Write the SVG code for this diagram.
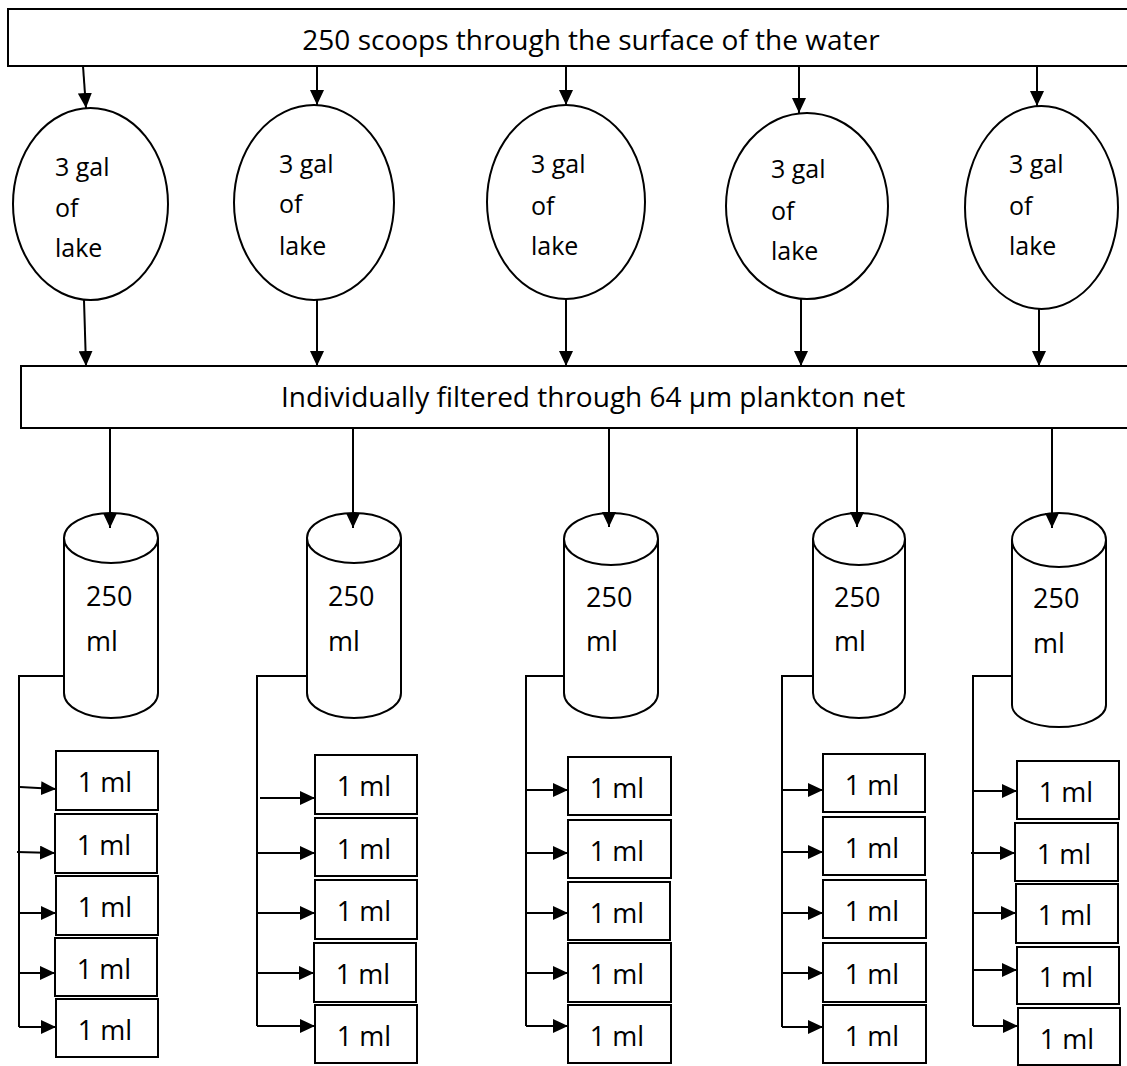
<svg xmlns="http://www.w3.org/2000/svg" width="1127" height="1066" viewBox="0 0 1127 1066">
<style>
.s{fill:#fff;stroke:#000;stroke-width:2}
.c{fill:none;stroke:#000;stroke-width:2}
text{font-family:"Open Sans","Liberation Sans",sans-serif;fill:#000}
.big{font-size:28px;text-anchor:middle}
.el{font-size:25px}
.cy{font-size:27px}
.bx{font-size:27px;text-anchor:middle}
</style>
<defs>
<marker id="ah" markerUnits="userSpaceOnUse" markerWidth="15" markerHeight="14" refX="15" refY="7" orient="auto" viewBox="0 0 15 14">
<path d="M0,0 L15,7 L0,14 z" fill="#000"/>
</marker>
</defs>
<rect width="1127" height="1066" fill="#fff"/>

<g id="scoops">
<rect class="s" x="8" y="9" width="1166" height="57"/>
<text class="big" x="591" y="50">250 scoops through the surface of the water</text>
</g>

<g id="lake1"><ellipse class="s" cx="90.5" cy="204" rx="77.5" ry="96"/>
<text class="el" x="55" y="176">3 gal</text><text class="el" x="55" y="217">of</text><text class="el" x="55" y="257">lake</text></g>
<g id="lake2"><ellipse class="s" cx="314" cy="202.5" rx="80" ry="97.5"/>
<text class="el" x="279" y="173">3 gal</text><text class="el" x="279" y="213">of</text><text class="el" x="279" y="255">lake</text></g>
<g id="lake3"><ellipse class="s" cx="566" cy="202" rx="79" ry="97"/>
<text class="el" x="531" y="173">3 gal</text><text class="el" x="531" y="215">of</text><text class="el" x="531" y="255">lake</text></g>
<g id="lake4"><ellipse class="s" cx="807" cy="206" rx="81" ry="93"/>
<text class="el" x="771" y="178">3 gal</text><text class="el" x="771" y="220">of</text><text class="el" x="771" y="260">lake</text></g>
<g id="lake5"><ellipse class="s" cx="1041.5" cy="207.5" rx="76.5" ry="101.5"/>
<text class="el" x="1009" y="173">3 gal</text><text class="el" x="1009" y="215">of</text><text class="el" x="1009" y="255">lake</text></g>

<g id="filter">
<rect class="s" x="21" y="366" width="1144" height="62"/>
<text class="big" x="593" y="407">Individually filtered through 64 µm plankton net</text>
</g>

<g id="cyl1">
<path class="s" d="M64,538 L64,693 A47,25 0 0 0 158,693 L158,538"/>
<ellipse class="s" cx="111" cy="538" rx="47" ry="25"/>
<text class="cy" x="86" y="606">250</text><text class="cy" x="86" y="651">ml</text>
</g>
<g id="cyl2">
<path class="s" d="M307,538 L307,693 A47,25 0 0 0 401,693 L401,538"/>
<ellipse class="s" cx="354" cy="538" rx="47" ry="25"/>
<text class="cy" x="328" y="606">250</text><text class="cy" x="328" y="651">ml</text>
</g>
<g id="cyl3">
<path class="s" d="M564,539 L564,693 A47,25 0 0 0 658,693 L658,539"/>
<ellipse class="s" cx="611" cy="539" rx="47" ry="26"/>
<text class="cy" x="586" y="607">250</text><text class="cy" x="586" y="651">ml</text>
</g>
<g id="cyl4">
<path class="s" d="M813,539 L813,693 A46,25 0 0 0 905,693 L905,539"/>
<ellipse class="s" cx="859" cy="539" rx="46" ry="26"/>
<text class="cy" x="834" y="607">250</text><text class="cy" x="834" y="651">ml</text>
</g>
<g id="cyl5">
<path class="s" d="M1012,540 L1012,705 A47,22 0 0 0 1106,705 L1106,540"/>
<ellipse class="s" cx="1059" cy="540" rx="47" ry="27"/>
<text class="cy" x="1033" y="608">250</text><text class="cy" x="1033" y="653">ml</text>
</g>

<g id="col1">
<g id="b11"><rect class="s" x="56" y="751" width="102" height="59"/><text class="bx" x="105" y="792">1 ml</text></g>
<g id="b12"><rect class="s" x="55" y="814" width="102" height="59"/><text class="bx" x="104" y="855">1 ml</text></g>
<g id="b13"><rect class="s" x="56" y="876" width="102" height="59"/><text class="bx" x="105" y="917">1 ml</text></g>
<g id="b14"><rect class="s" x="55" y="938" width="102" height="58"/><text class="bx" x="104" y="979">1 ml</text></g>
<g id="b15"><rect class="s" x="56" y="999" width="102" height="58"/><text class="bx" x="105" y="1040">1 ml</text></g>
</g>
<g id="col2">
<g id="b21"><rect class="s" x="315" y="755" width="102" height="59"/><text class="bx" x="364" y="796">1 ml</text></g>
<g id="b22"><rect class="s" x="315" y="818" width="102" height="58"/><text class="bx" x="364" y="859">1 ml</text></g>
<g id="b23"><rect class="s" x="315" y="880" width="102" height="59"/><text class="bx" x="364" y="921">1 ml</text></g>
<g id="b24"><rect class="s" x="314" y="943" width="102" height="59"/><text class="bx" x="363" y="984">1 ml</text></g>
<g id="b25"><rect class="s" x="315" y="1005" width="102" height="58"/><text class="bx" x="364" y="1046">1 ml</text></g>
</g>
<g id="col3">
<g id="b31"><rect class="s" x="568" y="757" width="103" height="58"/><text class="bx" x="617" y="798">1 ml</text></g>
<g id="b32"><rect class="s" x="568" y="820" width="103" height="58"/><text class="bx" x="617" y="861">1 ml</text></g>
<g id="b33"><rect class="s" x="568" y="882" width="102" height="58"/><text class="bx" x="617" y="923">1 ml</text></g>
<g id="b34"><rect class="s" x="568" y="943" width="103" height="59"/><text class="bx" x="617" y="984">1 ml</text></g>
<g id="b35"><rect class="s" x="568" y="1005" width="103" height="58"/><text class="bx" x="617" y="1046">1 ml</text></g>
</g>
<g id="col4">
<g id="b41"><rect class="s" x="823" y="754" width="102" height="58"/><text class="bx" x="872" y="795">1 ml</text></g>
<g id="b42"><rect class="s" x="823" y="817" width="102" height="58"/><text class="bx" x="872" y="858">1 ml</text></g>
<g id="b43"><rect class="s" x="823" y="880" width="103" height="58"/><text class="bx" x="872" y="921">1 ml</text></g>
<g id="b44"><rect class="s" x="823" y="943" width="103" height="59"/><text class="bx" x="872" y="984">1 ml</text></g>
<g id="b45"><rect class="s" x="823" y="1005" width="103" height="58"/><text class="bx" x="872" y="1046">1 ml</text></g>
</g>
<g id="col5">
<g id="b51"><rect class="s" x="1017" y="761" width="102" height="58"/><text class="bx" x="1066" y="802">1 ml</text></g>
<g id="b52"><rect class="s" x="1015" y="823" width="103" height="58"/><text class="bx" x="1064" y="864">1 ml</text></g>
<g id="b53"><rect class="s" x="1016" y="884" width="102" height="59"/><text class="bx" x="1065" y="925">1 ml</text></g>
<g id="b54"><rect class="s" x="1017" y="947" width="102" height="57"/><text class="bx" x="1066" y="987">1 ml</text></g>
<g id="b55"><rect class="s" x="1018" y="1008" width="102" height="57"/><text class="bx" x="1067" y="1049">1 ml</text></g>
</g>

<g id="connectors">
<g class="c" marker-end="url(#ah)">
<line x1="83" y1="66" x2="86" y2="108"/>
<line x1="317" y1="66" x2="317" y2="105"/>
<line x1="566" y1="66" x2="566" y2="105"/>
<line x1="799" y1="66" x2="799" y2="113"/>
<line x1="1037" y1="66" x2="1037" y2="106"/>
<line x1="84" y1="300" x2="86" y2="366"/>
<line x1="317" y1="300" x2="317" y2="366"/>
<line x1="566" y1="299" x2="566" y2="366"/>
<line x1="801" y1="299" x2="801" y2="366"/>
<line x1="1039" y1="309" x2="1039" y2="366"/>
<line x1="110" y1="428" x2="110" y2="528"/>
<line x1="353" y1="428" x2="353" y2="528"/>
<line x1="609" y1="428" x2="609" y2="527"/>
<line x1="857" y1="428" x2="857" y2="527"/>
<line x1="1052" y1="428" x2="1052" y2="528"/>
<line x1="20" y1="787" x2="56" y2="789"/>
<line x1="17" y1="852" x2="55" y2="853"/>
<line x1="19" y1="913" x2="56" y2="913"/>
<line x1="19" y1="973" x2="55" y2="973"/>
<line x1="19" y1="1027" x2="56" y2="1027"/>
<line x1="260" y1="798" x2="315" y2="798"/>
<line x1="257" y1="853" x2="315" y2="853"/>
<line x1="257" y1="913" x2="315" y2="913"/>
<line x1="257" y1="973" x2="314" y2="973"/>
<line x1="257" y1="1026" x2="315" y2="1026"/>
<line x1="526" y1="790" x2="568" y2="790"/>
<line x1="526" y1="853" x2="568" y2="853"/>
<line x1="526" y1="913" x2="568" y2="913"/>
<line x1="526" y1="973" x2="568" y2="973"/>
<line x1="526" y1="1026" x2="568" y2="1026"/>
<line x1="782" y1="790" x2="823" y2="790"/>
<line x1="782" y1="852" x2="823" y2="852"/>
<line x1="782" y1="913" x2="823" y2="913"/>
<line x1="782" y1="973" x2="823" y2="973"/>
<line x1="782" y1="1027" x2="823" y2="1027"/>
<line x1="973" y1="791" x2="1017" y2="791"/>
<line x1="971" y1="853" x2="1015" y2="853"/>
<line x1="973" y1="913" x2="1016" y2="913"/>
<line x1="973" y1="970" x2="1017" y2="970"/>
<line x1="973" y1="1026" x2="1018" y2="1026"/>
</g>
<g class="c">
<polyline points="64,676 19,676 19,1027"/>
<polyline points="307,676 257,676 257,1026"/>
<polyline points="564,676 526,676 526,1026"/>
<polyline points="813,676 782,676 782,1027"/>
<polyline points="1012,676 973,676 973,1026"/>
</g>
</g>
</svg>
